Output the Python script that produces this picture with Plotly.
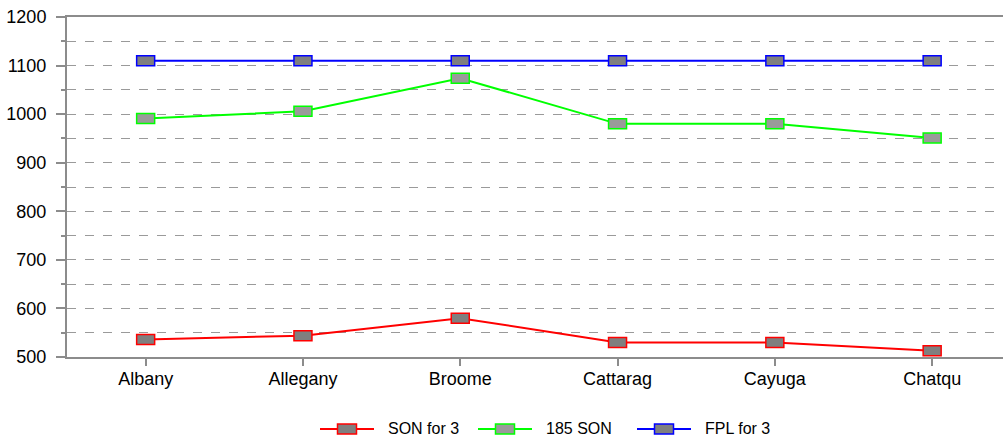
import plotly.graph_objects as go

# Counties along the x axis
counties = ["Albany", "Allegany", "Broome", "Cattarag", "Cayuga", "Chatqu"]

# Series values
son_for_3 = [536, 544, 580, 530, 530, 513]
son_185 = [991, 1006, 1074, 980, 980, 951]
fpl_for_3 = [1110, 1110, 1110, 1110, 1110, 1110]

series_names = ["SON for 3", "185 SON", "FPL for 3"]
y_ticks = [500, 600, 700, 800, 900, 1000, 1100, 1200]

series = [
    (series_names[0], son_for_3, "#ff0000", "#7f7f7f"),
    (series_names[1], son_185, "#00ff00", "#9a9a9a"),
    (series_names[2], fpl_for_3, "#0000ff", "#7f7f7f"),
]

W, H = 1003, 441
ML, MT, MB = 67, 17, 84
PLOT_W = W - ML
PLOT_H = H - MT - MB
FONT = "Liberation Sans, Arial, sans-serif"

fig = go.Figure()
shapes = []
annotations = []

xs = list(range(len(counties)))
for name, vals, color, fill in series:
    fig.add_trace(go.Scatter(
        x=xs, y=vals, mode="lines", name=name,
        line=dict(color=color, width=2), showlegend=False,
        hoverinfo="x+y+name",
    ))
    # rectangular point markers, sized in pixels and anchored at each data value
    for xi, v in zip(xs, vals):
        shapes.append(dict(
            type="rect", xref="x", yref="y",
            xsizemode="pixel", ysizemode="pixel",
            xanchor=xi, yanchor=v,
            x0=-9, x1=9, y0=-5, y1=5,
            line=dict(color=color, width=1.5), fillcolor=fill, layer="above",
        ))


def px_to_paper_x(px):
    return (px - ML) / PLOT_W


def px_to_paper_y(py):
    return (H - MB - py) / PLOT_H


# Legend drawn below the plot: line, rectangle marker, label
legend_y = 429
legend_x = [320, 478, 637]
for (name, vals, color, fill), lx in zip(series, legend_x):
    shapes.append(dict(
        type="line", xref="paper", yref="paper",
        x0=px_to_paper_x(lx), x1=px_to_paper_x(lx + 54),
        y0=px_to_paper_y(legend_y), y1=px_to_paper_y(legend_y),
        line=dict(color=color, width=2),
    ))
    shapes.append(dict(
        type="rect", xref="paper", yref="paper",
        xsizemode="pixel", ysizemode="pixel",
        xanchor=px_to_paper_x(lx + 27), yanchor=px_to_paper_y(legend_y),
        x0=-9.5, x1=9.5, y0=-5, y1=5,
        line=dict(color=color, width=1.5), fillcolor=fill,
    ))
    annotations.append(dict(
        xref="paper", yref="paper",
        x=px_to_paper_x(lx + 66), y=px_to_paper_y(legend_y),
        xanchor="left", yanchor="middle", showarrow=False,
        text=name, font=dict(family=FONT, size=16, color="#000000"),
    ))

fig.update_layout(
    width=W, height=H,
    margin=dict(l=ML, r=0, t=MT, b=MB, pad=0),
    paper_bgcolor="white", plot_bgcolor="white",
    shapes=shapes, annotations=annotations,
    showlegend=False,
    font=dict(family=FONT, color="#000000"),
    xaxis=dict(
        type="linear",
        range=[-0.5, -0.5 + PLOT_W / 157.3],
        tickmode="array", tickvals=xs, ticktext=counties,
        showgrid=False, zeroline=False,
        showline=True, linecolor="#8c8c8c", linewidth=2, mirror=True,
        ticks="outside", ticklen=7, tickwidth=1.5, tickcolor="#8c8c8c",
        tickfont=dict(family=FONT, size=18, color="#000000"),
        ticklabelstandoff=-3,
    ),
    yaxis=dict(
        range=[500, 1200],
        tickmode="array", tickvals=y_ticks,
        showline=True, linecolor="#8c8c8c", linewidth=2,
        zeroline=False,
        showgrid=True, gridcolor="#9a9a9a", gridwidth=1, griddash="dash",
        ticks="outside", ticklen=9, tickwidth=1.5, tickcolor="#8c8c8c",
        tickfont=dict(family=FONT, size=18, color="#000000"),
        ticklabelstandoff=6,
        minor=dict(dtick=50, tick0=500, ticks="outside", ticklen=4,
                   tickcolor="#8c8c8c", showgrid=True, gridcolor="#9a9a9a",
                   griddash="dash", gridwidth=1),
    ),
)

fig.write_html("out.html")
